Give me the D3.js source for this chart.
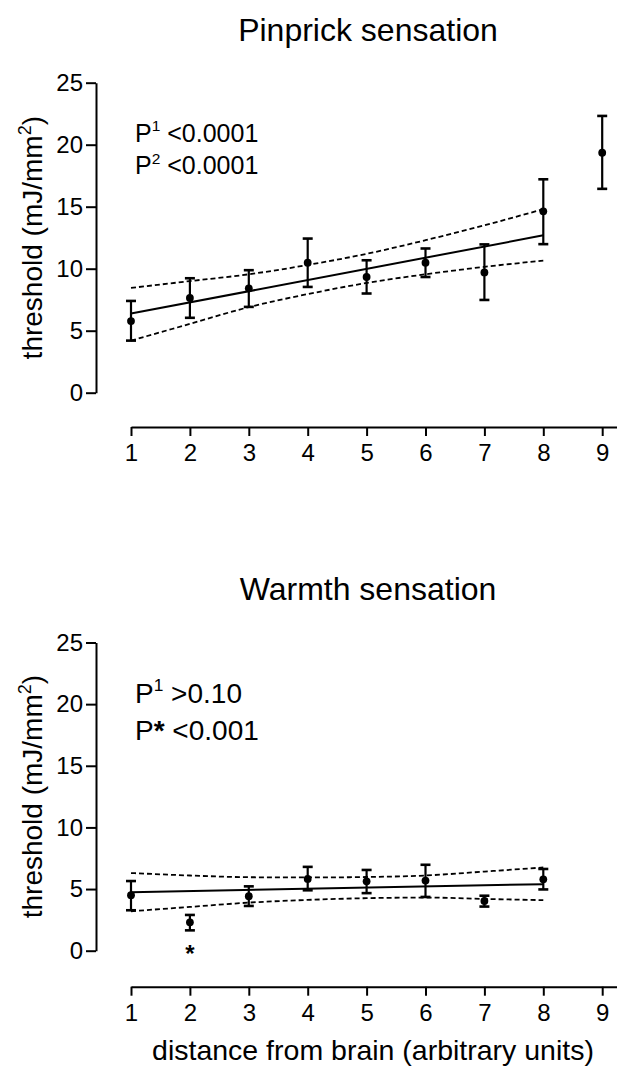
<!DOCTYPE html>
<html>
<head>
<meta charset="utf-8">
<script src="https://cdn.jsdelivr.net/npm/d3@7"></script>
<style>
  body { margin: 0; background: #fff; }
  svg text { font-family: "Liberation Sans", Arial, sans-serif; fill: #000; }
</style>
</head>
<body>
<div id="plot"></div>
<script>
const xTicks = [1, 2, 3, 4, 5, 6, 7, 8, 9];
const yTicks = [0, 5, 10, 15, 20, 25];

// pinprick: mean and ends of the error bars (mJ/mm2)
const pinX = [1, 2, 3, 4, 5, 6, 7, 8, 9];
const pinMean = [5.78, 7.64, 8.42, 10.48, 9.33, 10.48, 9.70, 14.63, 19.35];
const pinHigh = [7.40, 9.23, 9.88, 12.43, 10.68, 11.63, 11.96, 17.21, 22.32];
const pinLow = [4.20, 6.04, 6.92, 8.53, 8.00, 9.33, 7.48, 11.98, 16.44];
// regression line + 95% band (points 1-8 only)
const pinFitX = [1, 8];
const pinFit = [6.38, 12.69];
const pinBandX = [1, 2, 3, 4, 5, 6, 7, 8];
const pinBandHigh = [8.45, 9.00, 9.55, 10.30, 11.20, 12.30, 13.50, 14.80];
const pinBandLow = [4.20, 5.55, 6.90, 7.95, 8.85, 9.55, 10.15, 10.65];

// warmth
const warmX = [1, 2, 3, 4, 5, 6, 7, 8];
const warmMean = [4.50, 2.30, 4.42, 5.82, 5.63, 5.69, 4.03, 5.79];
const warmHigh = [5.65, 2.90, 5.22, 6.80, 6.55, 6.97, 4.46, 6.63];
const warmLow = [3.28, 1.65, 3.63, 4.90, 4.67, 4.36, 3.58, 4.97];
const warmFitX = [1, 8];
const warmFit = [4.75, 5.40];
const warmBandX = [1, 2, 3, 4, 5, 6, 7, 8];
const warmBandHigh = [6.30, 6.10, 5.96, 5.94, 5.98, 6.10, 6.42, 6.75];
const warmBandLow = [3.20, 3.55, 3.90, 4.12, 4.26, 4.31, 4.20, 4.10];

const w = 617;
const h = 1070;

const svg = d3.select("#plot")
  .append("svg")
  .attr("width", w)
  .attr("height", h);

function drawPanel(p) {
  const x = d3.scaleLinear().domain([1, 9.27]).range([131, 131 + 8.27 * 58.9]);
  const y = d3.scaleLinear().domain([0, 25]).range([p.y0, p.y25]);
  const g = svg.append("g");

  //-------------------------title-------------------------------
  g.append("text")
    .attr("x", 368)
    .attr("y", p.titleY)
    .attr("text-anchor", "middle")
    .style("font-size", "32px")
    .text(p.title);

  //-------------------------axes-------------------------------
  const yAxis = g.append("g")
    .attr("transform", "translate(96,0)")
    .call(d3.axisLeft(y).tickValues(yTicks).tickSize(10).tickSizeOuter(0).tickPadding(3));
  const xAxis = g.append("g")
    .attr("transform", "translate(0," + p.axisY + ")")
    .call(d3.axisBottom(x).tickValues(xTicks).tickSize(9).tickSizeOuter(0).tickPadding(8));
  [yAxis, xAxis].forEach(a => {
    a.attr("font-size", null).attr("font-family", null);
    a.selectAll("path, line").attr("stroke", "#000").attr("stroke-width", 2);
    a.selectAll("text").style("font-size", "24px");
  });

  const yTitle = g.append("text")
    .attr("transform", "translate(42," + (p.y0 + p.y25) / 2 + ") rotate(-90)")
    .attr("text-anchor", "middle")
    .style("font-size", "28px");
  yTitle.append("tspan").text("threshold (mJ/mm");
  yTitle.append("tspan").attr("dy", -11).style("font-size", "18px").text("2");
  yTitle.append("tspan").attr("dy", 11).text(")");

  if (p.xTitle) {
    g.append("text")
      .attr("x", 373)
      .attr("y", p.xTitleY)
      .attr("text-anchor", "middle")
      .style("font-size", "28.5px")
      .text(p.xTitle);
  }

  //-------------------------stats text-------------------------------
  p.stats.forEach((s, i) => {
    const t = g.append("text")
      .attr("x", 135)
      .attr("y", p.statY + i * p.statGap)
      .style("font-size", p.statSize + "px");
    t.append("tspan").text("P");
    if (s.sup) {
      t.append("tspan").attr("dy", -p.statSize * 0.42).style("font-size", p.statSize * 0.62 + "px").text(s.sup);
      t.append("tspan").attr("dy", p.statSize * 0.42).text(" " + s.text);
    } else {
      t.append("tspan").style("font-weight", "bold").text(s.mark);
      t.append("tspan").text(" " + s.text);
    }
  });

  //-------------------------band and fit-------------------------------
  const line = d3.line().x(d => x(d[0])).y(d => y(d[1])).curve(d3.curveMonotoneX);
  [p.bandHigh, p.bandLow].forEach(b => {
    g.append("path")
      .attr("d", line(p.bandX.map((v, i) => [v, b[i]])))
      .attr("fill", "none")
      .attr("stroke", "#000")
      .attr("stroke-width", 1.8)
      .attr("stroke-dasharray", "5,3");
  });
  g.append("path")
    .attr("d", d3.line().x(d => x(d[0])).y(d => y(d[1]))(p.fitX.map((v, i) => [v, p.fit[i]])))
    .attr("fill", "none")
    .attr("stroke", "#000")
    .attr("stroke-width", 2);

  //-------------------------points-------------------------------
  const pts = p.xs.map((v, i) => ({x: v, m: p.mean[i], hi: p.high[i], lo: p.low[i]}));
  const bar = g.append("g").selectAll("g").data(pts).enter().append("g");
  bar.append("line")
    .attr("x1", d => x(d.x)).attr("x2", d => x(d.x))
    .attr("y1", d => y(d.hi)).attr("y2", d => y(d.lo))
    .attr("stroke", "#000").attr("stroke-width", 2.2);
  ["hi", "lo"].forEach(k => {
    bar.append("line")
      .attr("x1", d => x(d.x) - 5).attr("x2", d => x(d.x) + 5)
      .attr("y1", d => y(d[k])).attr("y2", d => y(d[k]))
      .attr("stroke", "#000").attr("stroke-width", 2.6);
  });
  bar.append("circle")
    .attr("cx", d => x(d.x))
    .attr("cy", d => y(d.m))
    .attr("r", 3.9)
    .attr("fill", "#000");

  // significance mark under a point
  if (p.starAt) {
    g.append("text")
      .attr("x", x(p.starAt[0]))
      .attr("y", y(p.starAt[1]))
      .attr("text-anchor", "middle")
      .style("font-size", "24px")
      .style("font-weight", "bold")
      .text("*");
  }
}

drawPanel({
  title: "Pinprick sensation", titleY: 41,
  y0: 392.7, y25: 82.7, axisY: 427,
  stats: [{sup: "1", text: "<0.0001"}, {sup: "2", text: "<0.0001"}],
  statY: 141.7, statGap: 32.3, statSize: 25,
  xs: pinX, mean: pinMean, high: pinHigh, low: pinLow,
  fitX: pinFitX, fit: pinFit, bandX: pinBandX, bandHigh: pinBandHigh, bandLow: pinBandLow
});

drawPanel({
  title: "Warmth sensation", titleY: 600,
  y0: 950.7, y25: 642.5, axisY: 986.7,
  xTitle: "distance from brain (arbitrary units)", xTitleY: 1060,
  stats: [{sup: "1", text: ">0.10"}, {mark: "*", text: "<0.001"}],
  statY: 702.7, statGap: 37.3, statSize: 28,
  xs: warmX, mean: warmMean, high: warmHigh, low: warmLow,
  fitX: warmFitX, fit: warmFit, bandX: warmBandX, bandHigh: warmBandHigh, bandLow: warmBandLow,
  starAt: [2, -0.9]
});
</script>
</body>
</html>
